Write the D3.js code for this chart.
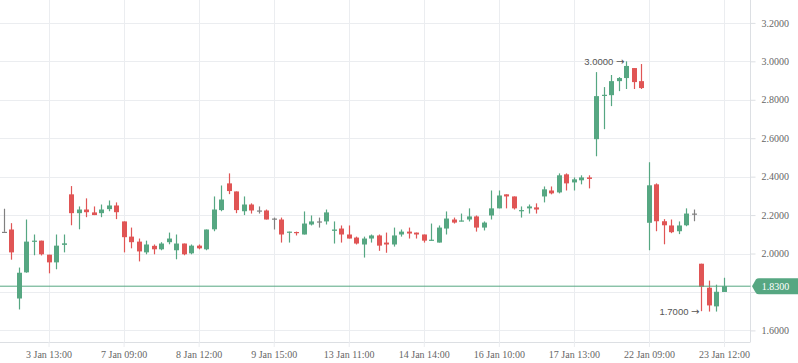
<!DOCTYPE html>
<html>
<head>
<meta charset="utf-8">
<script src="https://cdn.jsdelivr.net/npm/d3@7"></script>
<style>
  html, body { margin: 0; padding: 0; background: #fff; }
  svg { display: block; }
  .axis text { font-family: "Liberation Serif", "DejaVu Serif", serif; font-size: 10px; fill: #666; }
</style>
</head>
<body>
<svg id="chart" width="798" height="363"></svg>
<script>
// ---- data ----
const opens  = [2.113,2.125,1.766,1.902,2.062,2.067,1.994,1.954,2.045,2.308,
                2.210,2.229,2.214,2.210,2.231,2.250,2.167,2.088,2.062,2.006,
                2.040,2.022,2.059,2.017,2.052,2.001,2.041,2.022,2.126,2.226,
                2.365,2.323,2.220,2.255,2.224,2.224,2.182,2.177,2.112,2.112,
                2.099,2.151,2.167,2.167,2.118,2.130,2.099,2.083,2.047,2.078,
                2.094,2.057,2.047,2.099,2.114,2.109,2.099,2.067,2.057,2.130,
                2.177,2.170,2.177,2.193,2.135,2.198,2.235,2.308,2.297,2.222,
                2.235,2.240,2.297,2.328,2.318,2.412,2.370,2.381,2.396,2.595,
                2.820,2.824,2.897,2.913,2.965,2.897,2.160,2.360,2.168,2.146,
                2.116,2.147,2.208,1.947,1.822,1.725,1.800];
const highs  = [2.233,2.158,1.927,2.177,2.099,2.067,1.994,2.099,2.099,2.351,
                2.245,2.287,2.245,2.255,2.276,2.266,2.167,2.135,2.078,2.067,
                2.047,2.059,2.109,2.099,2.052,2.047,2.047,2.125,2.297,2.354,
                2.417,2.323,2.297,2.261,2.245,2.229,2.187,2.187,2.114,2.114,
                2.219,2.198,2.187,2.229,2.167,2.146,2.146,2.088,2.088,2.099,
                2.099,2.109,2.135,2.125,2.135,2.109,2.099,2.156,2.146,2.219,
                2.187,2.208,2.235,2.198,2.167,2.328,2.328,2.308,2.297,2.245,
                2.255,2.261,2.349,2.349,2.417,2.417,2.396,2.407,2.407,2.944,
                2.866,2.929,2.918,3.000,2.965,2.986,2.475,2.365,2.179,2.177,
                2.167,2.235,2.229,1.947,1.859,1.838,1.874];
const lows   = [2.113,1.968,1.709,1.900,1.991,1.990,1.897,1.918,2.006,2.147,
                2.126,2.189,2.200,2.189,2.220,2.179,2.006,2.027,1.959,1.996,
                1.996,2.017,2.048,1.970,1.991,1.996,2.022,2.017,2.116,2.220,
                2.309,2.210,2.200,2.208,2.208,2.177,2.125,2.057,2.057,2.094,
                2.099,2.146,2.135,2.151,2.052,2.057,2.078,2.047,1.979,2.057,
                2.014,2.004,2.036,2.088,2.078,2.078,2.057,2.067,2.057,2.099,
                2.156,2.167,2.167,2.114,2.120,2.177,2.235,2.235,2.229,2.187,
                2.208,2.208,2.266,2.308,2.313,2.328,2.328,2.360,2.339,2.506,
                2.647,2.767,2.845,2.856,2.856,2.856,2.017,2.116,2.048,2.106,
                2.101,2.142,2.168,1.700,1.698,1.698,1.800];
const closes = [2.113,2.006,1.900,2.062,2.067,1.996,1.954,2.041,2.053,2.210,
                2.229,2.215,2.200,2.229,2.250,2.215,2.085,2.059,2.011,2.047,
                2.022,2.052,2.078,2.052,1.996,2.041,2.027,2.125,2.229,2.281,
                2.325,2.226,2.255,2.224,2.224,2.177,2.182,2.099,2.114,2.107,
                2.156,2.167,2.167,2.214,2.125,2.099,2.078,2.052,2.078,2.094,
                2.041,2.047,2.094,2.114,2.104,2.099,2.067,2.072,2.135,2.182,
                2.161,2.172,2.193,2.135,2.161,2.235,2.302,2.297,2.235,2.226,
                2.245,2.229,2.334,2.313,2.407,2.365,2.386,2.396,2.388,2.819,
                2.826,2.897,2.913,2.976,2.892,2.861,2.355,2.168,2.147,2.111,
                2.146,2.208,2.208,1.827,1.730,1.801,1.830];
const tickIndex  = [6, 16, 26, 36, 46, 56, 66, 76, 86, 96];
const tickLabels = ["3 Jan 13:00","7 Jan 09:00","8 Jan 12:00","9 Jan 15:00","13 Jan 11:00",
                    "14 Jan 14:00","16 Jan 10:00","17 Jan 13:00","22 Jan 09:00","23 Jan 12:00"];
const yTicks = [1.6, 1.8, 2.0, 2.2, 2.4, 2.6, 2.8, 3.0, 3.2];
const lastPrice = 1.83;
const maxMark = {index: 83, value: 3.0, label: "3.0000"};
const minMark = {index: 93, value: 1.7, label: "1.7000"};

// ---- layout ----
const W = 798, H = 363;
const plotRight = 750.5, plotBottom = 342;
const GREEN = "#56a782", RED = "#e05555", GRAY = "#808080", GRID = "#ebedf0";

const candles = opens.map((o, i) => ({i, o, h: highs[i], l: lows[i], c: closes[i]}));

const x = d3.scaleLinear().domain([0, 96]).range([3.5, 724]);
const y = d3.scaleLinear().domain([1.6, 3.2]).range([330.4, 22.9]);

const svg = d3.select("#chart");
svg.append("rect").attr("width", W).attr("height", H).attr("fill", "#fff");

// gridlines
svg.append("g").selectAll("line.h").data(yTicks).join("line")
  .attr("x1", 0).attr("x2", plotRight)
  .attr("y1", d => Math.round(y(d)) + 0.5).attr("y2", d => Math.round(y(d)) + 0.5)
  .attr("stroke", GRID).attr("stroke-width", 1);
svg.append("g").selectAll("line.v").data(tickIndex).join("line")
  .attr("x1", d => Math.round(x(d)) + 0.5).attr("x2", d => Math.round(x(d)) + 0.5)
  .attr("y1", 0).attr("y2", plotBottom)
  .attr("stroke", GRID).attr("stroke-width", 1);

// axes
const yAxis = d3.axisRight(y).tickValues(yTicks).tickSize(5).tickPadding(6)
  .tickFormat(d => Math.abs(d - 1.8) < 1e-9 ? "" : d3.format(".4f")(d));
const gy = svg.append("g").attr("class", "axis").attr("transform", `translate(${plotRight},0)`).call(yAxis);
gy.select(".domain").attr("stroke", "#dcdfe3").attr("d", `M0,0V${plotBottom}`);
gy.selectAll(".tick line").attr("stroke", "#dcdfe3");

const xAxis = d3.axisBottom(x).tickValues(tickIndex).tickSize(5).tickPadding(4)
  .tickFormat((d, k) => tickLabels[k]);
const gx = svg.append("g").attr("class", "axis").attr("transform", `translate(0,${plotBottom})`).call(xAxis);
gx.select(".domain").attr("stroke", "#dcdfe3").attr("d", `M0,0.5H${plotRight}`);
gx.selectAll(".tick line").attr("stroke", GRID);

// candles
const bodyW = 5;
const colorOf = d => d.c > d.o ? GREEN : (d.c < d.o ? RED : GRAY);
const cg = svg.append("g");
cg.selectAll("line.wick").data(candles).join("line")
  .attr("x1", d => Math.round(x(d.i)) + 0.5).attr("x2", d => Math.round(x(d.i)) + 0.5)
  .attr("y1", d => y(d.h)).attr("y2", d => y(d.l))
  .attr("stroke", colorOf).attr("stroke-width", 1.2);
cg.selectAll("rect.body").data(candles).join("rect")
  .attr("x", d => Math.round(x(d.i)) + 0.5 - bodyW / 2)
  .attr("width", bodyW)
  .attr("y", d => y(Math.max(d.o, d.c)))
  .attr("height", d => Math.max(1.2, Math.abs(y(d.o) - y(d.c))))
  .attr("fill", colorOf);

// last price line
svg.append("line")
  .attr("x1", 0).attr("x2", plotRight)
  .attr("y1", y(lastPrice)).attr("y2", y(lastPrice))
  .attr("stroke", GREEN).attr("stroke-width", 1);

// price label box
const ly = y(lastPrice);
const bx = 752, bh = 16;
svg.append("path")
  .attr("d", `M${bx},${ly} L${bx + 4},${ly - bh / 2 + 1} Q${bx + 5},${ly - bh / 2} ${bx + 7},${ly - bh / 2} L${W},${ly - bh / 2} L${W},${ly + bh / 2} L${bx + 7},${ly + bh / 2} Q${bx + 5},${ly + bh / 2} ${bx + 4},${ly + bh / 2 - 1} Z`)
  .attr("fill", GREEN);
svg.append("text")
  .attr("x", 775.5).attr("y", ly).attr("dy", "0.35em")
  .attr("text-anchor", "middle")
  .attr("font-family", '"Liberation Serif", "DejaVu Serif", serif')
  .attr("font-size", "10px").attr("fill", "#fff")
  .text(d3.format(".4f")(lastPrice));

// max / min annotations
[maxMark, minMark].forEach(m => {
  const t = svg.append("text")
    .attr("x", x(m.index) - 2).attr("y", y(m.value)).attr("dy", "0.35em")
    .attr("text-anchor", "end")
    .attr("font-family", '"Liberation Sans", Arial, sans-serif')
    .attr("font-size", "9.5px").attr("fill", "#555");
  t.append("tspan").text(m.label + " ");
  t.append("tspan").attr("font-family", '"DejaVu Sans", sans-serif').attr("font-size", "10px").text("\u2192");
});
</script>
</body>
</html>
